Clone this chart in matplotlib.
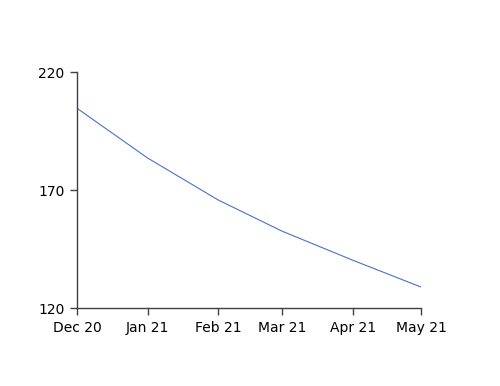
import matplotlib
matplotlib.use("Agg")
import matplotlib.pyplot as plt
import matplotlib.dates as mdates
import pandas as pd

# data
dates = pd.to_datetime(["2020-12-01", "2021-01-01", "2021-02-01",
                        "2021-03-01", "2021-04-01", "2021-05-01"])
values = [204.7, 183.6, 165.8, 152.6, 140.3, 128.9]
tick_labels = ["Dec 20", "Jan 21", "Feb 21", "Mar 21", "Apr 21", "May 21"]
y_ticks = [120, 170, 220]

fig = plt.figure(figsize=(5, 3.86), dpi=100)
ax = fig.add_axes([0.154, 0.202, 0.688, 0.611])

ax.plot(dates, values, color="#4a72c4", linewidth=0.8)

ax.set_xlim(dates[0], dates[-1])
ax.set_ylim(120, 220)
ax.set_yticks(y_ticks)
ax.set_xticks(dates)
ax.set_xticklabels(tick_labels)

for s in ["top", "right"]:
    ax.spines[s].set_visible(False)
for s in ["left", "bottom"]:
    ax.spines[s].set_color("#404040")
    ax.spines[s].set_linewidth(1.0)

ax.tick_params(direction="out", length=5, width=1, color="#404040",
               labelsize=10, pad=4)

fig.savefig("out.png", dpi=100)
